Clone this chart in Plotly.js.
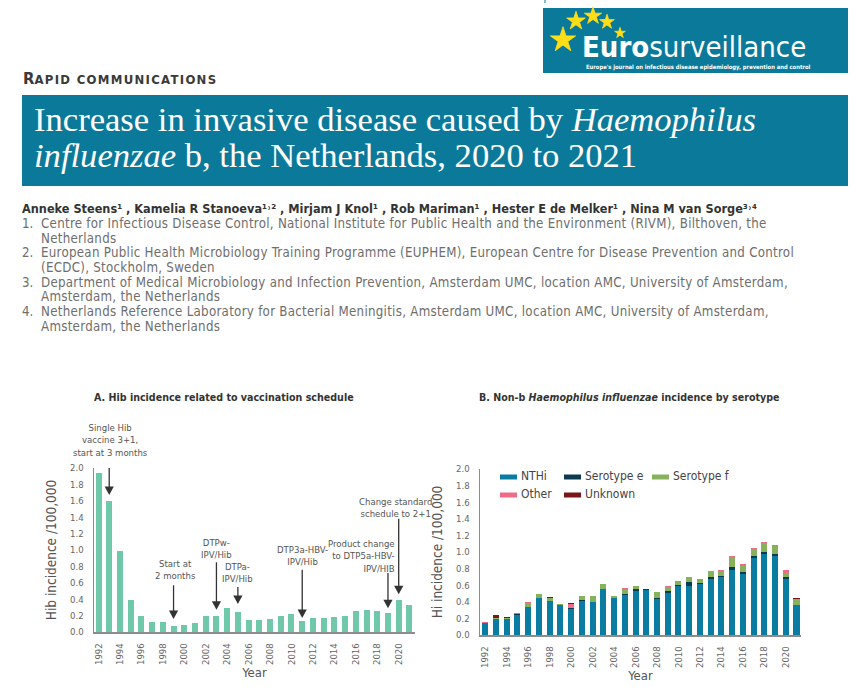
<!DOCTYPE html>
<html><head><meta charset="utf-8">
<script src="https://cdn.plot.ly/plotly-3.0.1.min.js"></script>
<style>html,body{margin:0;padding:0;background:#fff}#chart{width:862px;height:693px}</style>
</head><body><div id="chart"></div>
<script>
// ---------- data ----------
const years = [1992,1993,1994,1995,1996,1997,1998,1999,2000,2001,2002,2003,2004,2005,2006,2007,2008,2009,2010,2011,2012,2013,2014,2015,2016,2017,2018,2019,2020,2021];
const hibIncidence = [1.94,1.60,0.99,0.39,0.19,0.12,0.12,0.075,0.09,0.105,0.20,0.19,0.29,0.25,0.145,0.145,0.153,0.194,0.223,0.132,0.165,0.17,0.178,0.20,0.26,0.27,0.256,0.227,0.39,0.326];
const nthi      = [0.14,0.19,0.19,0.245,0.335,0.45,0.405,0.36,0.31,0.415,0.395,0.555,0.44,0.485,0.525,0.54,0.435,0.51,0.595,0.59,0.61,0.68,0.695,0.78,0.735,0.93,0.975,0.955,0.675,0.36];
const serotypeE = [0,0,0,0.01,0.005,0,0.005,0.005,0.01,0.01,0.005,0,0.01,0.01,0.025,0.01,0.005,0.02,0.01,0.045,0.015,0.02,0.02,0.045,0.025,0.02,0.025,0.025,0.025,0.005];
const serotypeF = [0.01,0.02,0.015,0,0.04,0.04,0.03,0.01,0.015,0.05,0.075,0.055,0.025,0.055,0.035,0.01,0.075,0.05,0.03,0.065,0.04,0.075,0.05,0.115,0.075,0.085,0.11,0.095,0.05,0.055];
const otherType = [0.01,0,0,0.01,0.015,0.005,0.01,0,0.035,0,0,0,0,0.015,0,0,0,0.015,0.01,0,0.008,0,0.015,0.012,0.02,0.008,0.01,0.015,0.03,0.015];
const unknownType=[0,0.03,0.015,0,0,0,0.01,0,0.015,0,0,0,0,0,0,0,0,0,0,0,0,0,0,0,0.005,0,0,0,0,0.012];
const seriesNames = ['NTHi','Serotype e','Serotype f','Other','Unknown'];
const seriesValues = [nthi, serotypeE, serotypeF, otherType, unknownType];
const seriesColors = ['#0a7ca2','#0c3a50','#86b15d','#ef6c89','#7b1518'];
const yearTickVals = [1992,1994,1996,1998,2000,2002,2004,2006,2008,2010,2012,2014,2016,2018,2020];
const yearTickText = yearTickVals.map(String);
const incTickVals = [0,0.2,0.4,0.6,0.8,1.0,1.2,1.4,1.6,1.8,2.0];
const incTickText = incTickVals.map(v => v.toFixed(1));
const authors = 'Anneke Steens¹ , Kamelia R Stanoeva¹˒² , Mirjam J Knol¹ , Rob Mariman¹ , Hester E de Melker¹ , Nina M van Sorge³˒⁴';
const affiliations = [
  ['Centre for Infectious Disease Control, National Institute for Public Health and the Environment (RIVM), Bilthoven, the','Netherlands'],
  ['European Public Health Microbiology Training Programme (EUPHEM), European Centre for Disease Prevention and Control','(ECDC), Stockholm, Sweden'],
  ['Department of Medical Microbiology and Infection Prevention, Amsterdam UMC, location AMC, University of Amsterdam,','Amsterdam, the Netherlands'],
  ['Netherlands Reference Laboratory for Bacterial Meningitis, Amsterdam UMC, location AMC, University of Amsterdam,','Amsterdam, the Netherlands']
];
const vaccineNotes = [
  {text: 'Single Hib<br>vaccine 3+1,<br>start at 3 months', year: 1993, tail: 2.12, head: 1.67},
  {text: 'Start at<br>2 months', year: 1999, tail: 0.57, head: 0.16},
  {text: 'DTPw-<br>IPV/Hib', year: 2003, tail: 0.85, head: 0.27},
  {text: 'DTPa-<br>IPV/Hib', year: 2005, tail: 0.55, head: 0.34},
  {text: 'DTP3a-HBV-<br>IPV/Hib', year: 2011, tail: 0.76, head: 0.17},
  {text: 'Product change<br>to DTP5a-HBV-<br>IPV/HIB', year: 2019, tail: 0.72, head: 0.29},
  {text: 'Change standard<br>schedule to 2+1', year: 2020, tail: 1.38, head: 0.46}
];

// ---------- helpers ----------
const W = 862, H = 693;
const px = x => x / W;
const py = y => 1 - y / H;
const NARROW = '"DejaVu Sans Condensed", "Liberation Sans", sans-serif';
const SERIF = '"Liberation Serif", "DejaVu Serif", serif';
const TEAL = '#0b7a9a';
const STAR_YELLOW = '#ffde17';

const aX = {l: 94, r: 415, range: [1991.58, 2021.52]};
const aY = {b: 632, t: 468, range: [0, 2.0]};
const bX = {l: 480, r: 801, range: [1991.51, 2021.42]};
const bY = {b: 635, t: 469, range: [0, 2.0]};

// logo decoration (page pixel positions on a hidden full-page axis)
const logoStarX = [563, 576, 593, 607, 620];
const logoStarY = [40, 21, 16, 22, 33];
const logoStarSize = [19, 14, 13, 11, 8];

const traces = [{
  type: 'bar', x: years, y: hibIncidence, xaxis: 'x', yaxis: 'y',
  marker: {color: '#6fc8aa'}, showlegend: false, hoverinfo: 'x+y'
}];
seriesNames.forEach((n, i) => traces.push({
  type: 'bar', name: n, x: years, y: seriesValues[i], xaxis: 'x2', yaxis: 'y2',
  marker: {color: seriesColors[i], line: {width: 0}}, showlegend: false
}));
traces.push({type: 'scatter', mode: 'markers', x: logoStarX, y: logoStarY, xaxis: 'x3', yaxis: 'y3', opacity: 1,
  marker: {symbol: 'star', size: logoStarSize, color: STAR_YELLOW, opacity: 1, line: {width: 0.8, color: STAR_YELLOW}},
  showlegend: false, hoverinfo: 'skip', cliponaxis: false});

const axisX = (g, anchor) => ({
  domain: [px(g.l), px(g.r)], range: g.range, anchor: anchor, tickvals: yearTickVals, ticktext: yearTickText,
  tickangle: -90, ticks: '', ticklabelstandoff: 6, showline: true, linecolor: '#8c8c8c', linewidth: 1.5,
  showgrid: false, zeroline: false, fixedrange: true,
  tickfont: {family: NARROW, size: 9.5, color: '#666'},
  title: {text: 'Year', font: {family: NARROW, size: 13, color: '#555'}, standoff: 3}
});
const axisY = (g, anchor, title) => ({
  domain: [py(g.b), py(g.t)], range: g.range, anchor: anchor, tickvals: incTickVals, ticktext: incTickText,
  ticks: '', ticklabelstandoff: 7, showline: true, linecolor: '#8c8c8c', linewidth: 1.5,
  showgrid: false, zeroline: false, fixedrange: true,
  tickfont: {family: NARROW, size: 9.5, color: '#666'},
  title: {text: title, font: {family: NARROW, size: 13.5, color: '#555'}, standoff: 10}
});
const hiddenAxis = (rng, anchor) => ({domain: [0, 1], range: rng, anchor: anchor, visible: false, fixedrange: true, showgrid: false, zeroline: false});

const shapes = [
  {type: 'rect', xref: 'paper', yref: 'paper', x0: px(543), x1: px(848), y0: py(73), y1: py(8), fillcolor: TEAL, line: {width: 0}, layer: 'below'},
  {type: 'line', xref: 'paper', yref: 'paper', x0: px(545), x1: px(545), y0: py(0), y1: py(3), line: {color: TEAL, width: 1}},
  {type: 'rect', xref: 'paper', yref: 'paper', x0: px(22), x1: px(848), y0: py(186), y1: py(95), fillcolor: TEAL, line: {width: 0}, layer: 'below'}
];

const ann = [];
const A = (o) => ann.push(Object.assign({xref: 'paper', yref: 'paper', showarrow: false}, o));

// logo text
A({x: px(580), y: py(47), text: '<b>Euro</b>surveillance', font: {family: NARROW, size: 29, color: '#fff'}, xanchor: 'left', yanchor: 'middle'});
A({x: px(584), y: py(67), text: "<b>Europe's journal on infectious disease epidemiology, prevention and control</b>", font: {family: NARROW, size: 5.8, color: '#fff'}, xanchor: 'left', yanchor: 'middle'});

// heading
A({x: px(21), y: py(79), text: '<b>R<span style="font-size:13px;letter-spacing:1.3px">APID COMMUNICATIONS</span></b>', font: {family: NARROW, size: 16.5, color: '#3a3a3a'}, xanchor: 'left', yanchor: 'middle'});
A({x: px(32), y: py(119), text: 'Increase in invasive disease caused by <i>Haemophilus</i>', font: {family: SERIF, size: 34.6, color: '#fff'}, xanchor: 'left', yanchor: 'middle'});
A({x: px(32), y: py(155), text: '<i>influenzae</i> b, the Netherlands, 2020 to 2021', font: {family: SERIF, size: 34.6, color: '#fff'}, xanchor: 'left', yanchor: 'middle'});
A({x: px(21), y: py(208.5), text: '<b>' + authors + '</b>', font: {family: NARROW, size: 12.6, color: '#333'}, xanchor: 'left', yanchor: 'middle', borderpad: 0});
const affFont = {family: NARROW, size: 13.2, color: '#6e6e6e'};
affiliations.forEach((lines, i) => {
  const y0 = 223.5 + i * 29.3;
  A({x: px(21), y: py(y0), text: (i + 1) + '.', font: affFont, xanchor: 'left', yanchor: 'middle', borderpad: 0});
  A({x: px(40), y: py(y0), text: '<span style="letter-spacing:0.28px">' + lines[0] + '</span>', font: affFont, xanchor: 'left', yanchor: 'middle', borderpad: 0});
  A({x: px(40), y: py(y0 + 14.6), text: '<span style="letter-spacing:0.28px">' + lines[1] + '</span>', font: affFont, xanchor: 'left', yanchor: 'middle', borderpad: 0});
});

// chart titles
A({x: px(224), y: py(397), text: '<b>A. Hib incidence related to vaccination schedule</b>', font: {family: NARROW, size: 10.6, color: '#333'}, xanchor: 'center', yanchor: 'middle'});
A({x: px(629), y: py(397), text: '<b>B. Non-b <i>Haemophilus influenzae</i> incidence by serotype</b>', font: {family: NARROW, size: 10.6, color: '#333'}, xanchor: 'center', yanchor: 'middle'});

// chart A annotations: text block + arrow (line + filled head, in data units)
const noteFont = {family: NARROW, size: 9.5, color: '#555'};
const notePlace = [[111,440,'center'],[175,569,'center'],[216,548,'center'],[238,572,'center'],[302,555,'center'],[397,556,'right'],[395,507,'center']];
const pxPerYear = (aX.r - aX.l) / (aX.range[1] - aX.range[0]);
const pxPerUnit = (aY.b - aY.t) / (aY.range[1] - aY.range[0]);
const headW = 4.6 / pxPerYear, headH = 8.5 / pxPerUnit;
vaccineNotes.forEach((n, i) => {
  const [tx, ty, anc] = notePlace[i];
  A({x: px(tx), y: py(ty), text: n.text, font: noteFont, xanchor: anc, yanchor: 'middle', align: anc === 'right' ? 'right' : 'center'});
  shapes.push({type: 'line', xref: 'x', yref: 'y', x0: n.year, x1: n.year, y0: n.tail, y1: n.head + headH * 0.6, line: {color: '#333', width: 1.3}});
  shapes.push({type: 'path', xref: 'x', yref: 'y',
    path: `M${n.year - headW},${n.head + headH} L${n.year + headW},${n.head + headH} L${n.year},${n.head} Z`,
    fillcolor: '#333', line: {width: 0}});
});

// chart B legend
const legendPos = [[500,477],[564,477],[652,477],[500,495],[564,495]];
seriesNames.forEach((n, i) => {
  const [lx, ly] = legendPos[i];
  shapes.push({type: 'rect', xref: 'paper', yref: 'paper', x0: px(lx), x1: px(lx + 17), y0: py(ly + 2.5), y1: py(ly - 2.5), fillcolor: seriesColors[i], line: {width: 0}});
  A({x: px(lx + 19), y: py(ly - 1), text: n, font: {family: NARROW, size: 12, color: '#444'}, xanchor: 'left', yanchor: 'middle'});
});

const layout = {
  width: W, height: H, margin: {l: 0, r: 0, t: 0, b: 0},
  paper_bgcolor: '#fff', plot_bgcolor: 'rgba(0,0,0,0)',
  barmode: 'stack', bargap: 0.44, showlegend: false,
  xaxis: axisX(aX, 'y'),
  yaxis: axisY(aY, 'x', 'Hib incidence /100,000'),
  xaxis2: axisX(bX, 'y2'),
  yaxis2: axisY(bY, 'x2', 'Hi incidence /100,000'),
  xaxis3: hiddenAxis([0, W], 'y3'),
  yaxis3: hiddenAxis([H, 0], 'x3'),
  shapes: shapes, annotations: ann
};
Plotly.newPlot('chart', traces, layout, {displayModeBar: false, staticPlot: true});
</script></body></html>
